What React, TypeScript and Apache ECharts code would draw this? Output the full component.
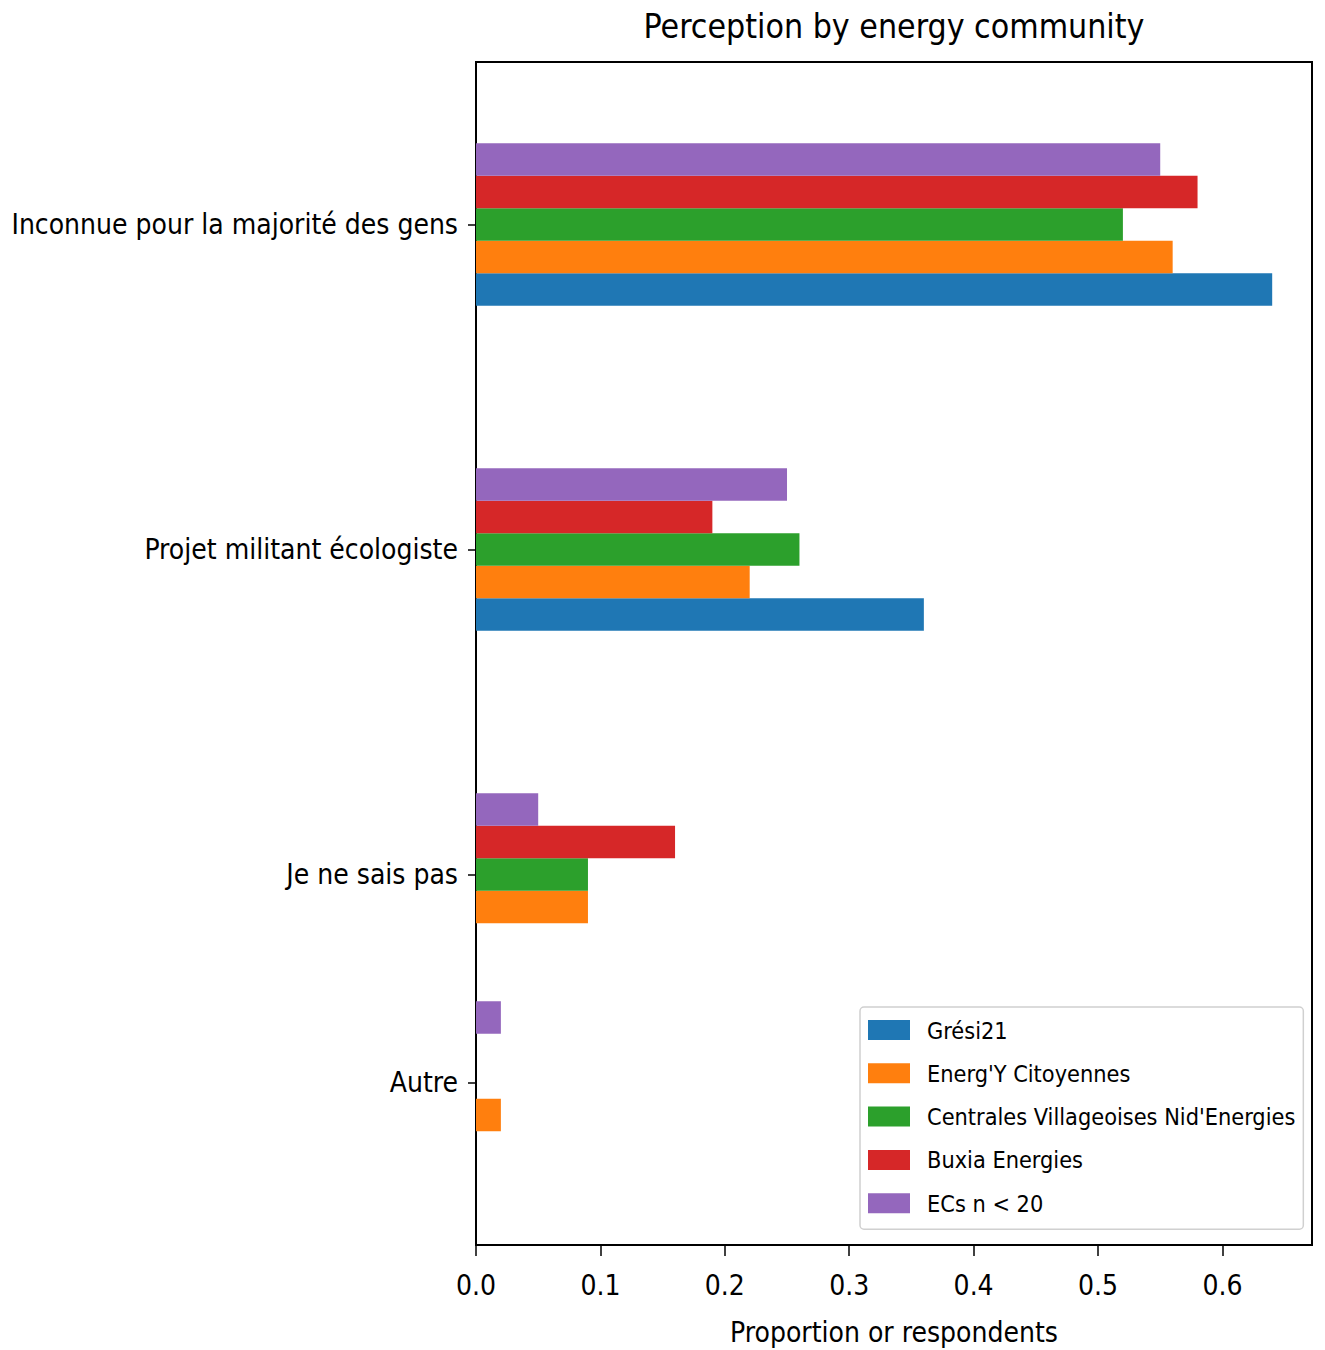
import React, { useEffect, useRef } from "react";
import * as echarts from "echarts";

const categories = [
  "Inconnue pour la majorité des gens",
  "Projet militant écologiste",
  "Je ne sais pas",
  "Autre",
];
const categoryPositions = [0, 1, 2, 2.64];
const seriesNames = [
  "Grési21",
  "Energ'Y Citoyennes",
  "Centrales Villageoises Nid'Energies",
  "Buxia Energies",
  "ECs n < 20",
];
const gresi21 = [0.64, 0.36, 0, 0];
const energY = [0.56, 0.22, 0.09, 0.02];
const centrales = [0.52, 0.26, 0.09, 0];
const buxia = [0.58, 0.19, 0.16, 0];
const ecsSmall = [0.55, 0.25, 0.05, 0.02];
const seriesValues = [gresi21, energY, centrales, buxia, ecsSmall];
const xTicks = [0, 0.1, 0.2, 0.3, 0.4, 0.5, 0.6];
const colors = ["#1f77b4", "#ff7f0e", "#2ca02c", "#d62728", "#9467bd"];

const FONT = "'DejaVu Sans Condensed', 'DejaVu Sans', sans-serif";
const BAR_H = 0.1;

export default function App() {
  const ref = useRef<HTMLDivElement>(null);
  useEffect(() => {
    document.body.style.margin = "0";
    const chart = echarts.init(ref.current!, null, { renderer: "svg" });
    const series = seriesNames.map((name, si) => ({
      name,
      type: "custom",
      itemStyle: { color: colors[si] },
      encode: { x: 0, y: 1 },
      data: seriesValues[si].map((v, ci) => [v, categoryPositions[ci]]),
      renderItem: (params: any, api: any) => {
        const x = api.value(0);
        const yc = api.value(1);
        if (!x) return null;
        const off = (2 - params.seriesIndex) * BAR_H;
        const p0 = api.coord([0, yc + off - BAR_H / 2]);
        const p1 = api.coord([x, yc + off + BAR_H / 2]);
        return {
          type: "rect",
          shape: {
            x: Math.min(p0[0], p1[0]),
            y: Math.min(p0[1], p1[1]),
            width: Math.abs(p1[0] - p0[0]),
            height: Math.abs(p1[1] - p0[1]),
          },
          style: { fill: api.visual("color") },
        };
      },
    }));
    chart.setOption({
      animation: false,
      backgroundColor: "#fff",
      textStyle: { fontFamily: FONT },
      graphic: [
        {
          type: "text",
          x: 894,
          y: 9,
          style: {
            text: "Perception by energy community",
            fontFamily: FONT,
            fontSize: 33.6,
            fill: "#000",
            textAlign: "center",
            textVerticalAlign: "top",
          },
        },
      ],
      grid: {
        left: 476,
        top: 62,
        right: 13,
        bottom: 105,
        show: true,
        borderColor: "#000",
        borderWidth: 2,
        containLabel: false,
        outerBoundsMode: "none",
      },
      legend: {
        orient: "vertical",
        left: 860,
        top: 1007,
        padding: [10, 8, 13, 8],
        itemWidth: 42,
        itemHeight: 20,
        itemGap: 17.3,
        backgroundColor: "#fff",
        borderColor: "#d0d0d0",
        borderWidth: 1.5,
        borderRadius: 4,
        icon: "rect",
        data: seriesNames,
        textStyle: {
          fontFamily: FONT,
          fontSize: 23.3,
          lineHeight: 26,
          color: "#000",
          padding: [0, 0, 0, 12],
        },
      },
      xAxis: {
        type: "value",
        min: 0,
        max: 0.672,
        name: "Proportion or respondents",
        nameLocation: "middle",
        nameGap: 73,
        nameTextStyle: { fontFamily: FONT, fontSize: 28, color: "#000" },
        axisLine: { show: true, onZero: false, lineStyle: { color: "#000", width: 2 } },
        axisTick: { show: true, length: 11, customValues: xTicks, lineStyle: { color: "#000", width: 1.5 } },
        axisLabel: {
          customValues: xTicks,
          formatter: (v: number) => v.toFixed(1),
          fontFamily: FONT,
          fontSize: 28,
          color: "#000",
          margin: 26,
        },
        splitLine: { show: false },
      },
      yAxis: {
        type: "value",
        inverse: true,
        min: -0.5,
        max: 3.14,
        axisLine: { show: true, onZero: false, lineStyle: { color: "#000", width: 2 } },
        axisTick: { show: true, length: 8, customValues: categoryPositions, lineStyle: { color: "#000", width: 1.5 } },
        axisLabel: {
          customValues: categoryPositions,
          formatter: (v: number) => {
            let best = 0;
            categoryPositions.forEach((p, i) => {
              if (Math.abs(p - v) < Math.abs(categoryPositions[best] - v)) best = i;
            });
            return categories[best];
          },
          fontFamily: FONT,
          fontSize: 28,
          color: "#000",
          margin: 18,
        },
        splitLine: { show: false },
      },
      series,
    });
    return () => chart.dispose();
  }, []);
  return <div ref={ref} style={{ width: 1325, height: 1350 }} />;
}
